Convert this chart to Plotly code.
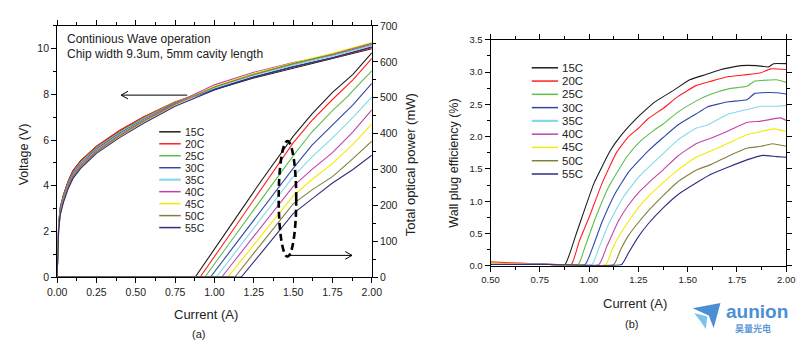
import plotly.graph_objects as go

W, H = 808, 348

temps = ["15C", "20C", "25C", "30C", "35C", "40C", "45C", "50C", "55C"]
colors = ["#1e1e1e", "#ff2020", "#5cbf4a", "#3048a8", "#86d8ea",
          "#c443aa", "#f6ea00", "#857f3c", "#2e2e82"]

# ---------------- (a) Voltage vs current ----------------
iv_current = [0, 0.005, 0.01, 0.02, 0.04, 0.07, 0.1, 0.15, 0.25, 0.4, 0.55,
              0.75, 1.0, 1.25, 1.5, 1.75, 2.0]
iv_v_15 = [0, 1.5, 2.35, 3.05, 3.6, 4.2, 4.65, 5.1, 5.72, 6.42, 7.0, 7.65, 8.22, 8.72, 9.15, 9.55, 10.0]
iv_v_20 = [0, 1.5, 2.33, 3.03, 3.58, 4.18, 4.63, 5.08, 5.73, 6.44, 7.02, 7.68, 8.24, 8.76, 9.2, 9.6, 10.05]
iv_v_25 = [0, 1.45, 2.28, 2.97, 3.52, 4.12, 4.57, 5.02, 5.67, 6.37, 6.97, 7.66, 8.32, 8.86, 9.31, 9.72, 10.18]
iv_v_30 = [0, 1.4, 2.22, 2.92, 3.46, 4.06, 4.51, 4.96, 5.61, 6.31, 6.9, 7.6, 8.24, 8.77, 9.22, 9.62, 10.08]
iv_v_35 = [0, 1.38, 2.18, 2.88, 3.42, 4.02, 4.47, 4.92, 5.57, 6.27, 6.87, 7.58, 8.28, 8.83, 9.28, 9.68, 10.14]
iv_v_40 = [0, 1.35, 2.15, 2.85, 3.39, 3.99, 4.44, 4.89, 5.54, 6.24, 6.85, 7.6, 8.42, 8.97, 9.4, 9.74, 10.2]
iv_v_45 = [0, 1.3, 2.08, 2.76, 3.3, 3.9, 4.35, 4.8, 5.45, 6.16, 6.8, 7.55, 8.36, 8.92, 9.38, 9.8, 10.28]
iv_v_50 = [0, 1.32, 2.12, 2.8, 3.34, 3.94, 4.39, 4.84, 5.49, 6.2, 6.82, 7.56, 8.33, 8.88, 9.35, 9.76, 10.24]
iv_v_55 = [0, 1.28, 2.05, 2.72, 3.26, 3.86, 4.31, 4.76, 5.42, 6.12, 6.74, 7.48, 8.2, 8.75, 9.2, 9.6, 10.08]
iv_voltages = [iv_v_15, iv_v_20, iv_v_25, iv_v_30, iv_v_35, iv_v_40, iv_v_45, iv_v_50, iv_v_55]

# ---------------- (a) Optical power vs current ----------------
li_i_15 = [0, 0.878, 1.1, 1.3, 1.5, 1.62, 1.75, 1.88, 1.93, 2.0]
li_p_15 = [0, 0, 142, 270, 392, 455, 515, 565, 590, 625]
li_i_20 = [0, 0.909, 1.1, 1.3, 1.5, 1.62, 1.75, 1.88, 2.0]
li_p_20 = [0, 0, 120, 247, 374, 437, 495, 550, 610]
li_i_25 = [0, 0.94, 1.1, 1.3, 1.5, 1.62, 1.75, 1.85, 1.88, 2.0]
li_p_25 = [0, 0, 97, 218, 338, 405, 464, 505, 520, 575]
li_i_30 = [0, 0.975, 1.1, 1.3, 1.5, 1.62, 1.75, 1.88, 2.0]
li_p_30 = [0, 0, 72, 188, 303, 368, 424, 480, 540]
li_i_35 = [0, 1.012, 1.1, 1.3, 1.5, 1.62, 1.75, 1.88, 2.0]
li_p_35 = [0, 0, 50, 165, 280, 335, 388, 445, 502]
li_i_40 = [0, 1.047, 1.1, 1.3, 1.5, 1.62, 1.75, 1.88, 2.0]
li_p_40 = [0, 0, 30, 141, 253, 300, 347, 405, 466]
li_i_45 = [0, 1.085, 1.1, 1.3, 1.5, 1.62, 1.75, 1.88, 2.0]
li_p_45 = [0, 0, 8, 117, 226, 272, 316, 370, 426]
li_i_50 = [0, 1.13, 1.3, 1.5, 1.62, 1.75, 1.88, 2.0]
li_p_50 = [0, 0, 94, 204, 243, 280, 330, 379]
li_i_55 = [0, 1.171, 1.3, 1.5, 1.62, 1.75, 1.88, 2.0]
li_p_55 = [0, 0, 69, 177, 218, 262, 300, 340]
li_currents = [li_i_15, li_i_20, li_i_25, li_i_30, li_i_35, li_i_40, li_i_45, li_i_50, li_i_55]
li_powers = [li_p_15, li_p_20, li_p_25, li_p_30, li_p_35, li_p_40, li_p_45, li_p_50, li_p_55]

# ---------------- (b) Wall plug efficiency ----------------
wpe_i_15 = [0.5, 0.6, 0.7, 0.8, 0.878, 0.93, 0.967, 1.025, 1.107, 1.165, 1.239, 1.33, 1.43, 1.51, 1.59, 1.67, 1.77, 1.85, 1.91, 1.935, 2.0]
wpe_w_15 = [0.03, 0.03, 0.025, 0.02, 0.02, 0.45, 0.78, 1.28, 1.78, 2.03, 2.28, 2.53, 2.72, 2.88, 2.96, 3.04, 3.10, 3.10, 3.08, 3.13, 3.13]
wpe_i_20 = [0.5, 0.6, 0.7, 0.8, 0.91, 0.95, 1.0, 1.066, 1.14, 1.2, 1.25, 1.3, 1.377, 1.45, 1.542, 1.62, 1.707, 1.8, 1.872, 1.92, 2.0]
wpe_w_20 = [0.06, 0.045, 0.035, 0.025, 0.02, 0.38, 0.75, 1.28, 1.76, 2.0, 2.13, 2.28, 2.44, 2.62, 2.79, 2.86, 2.93, 2.96, 2.99, 3.05, 3.04]
wpe_i_25 = [0.5, 0.6, 0.7, 0.8, 0.945, 0.98, 1.03, 1.099, 1.19, 1.25, 1.33, 1.377, 1.45, 1.542, 1.62, 1.707, 1.8, 1.84, 1.872, 1.95, 2.0]
wpe_w_25 = [0.04, 0.035, 0.03, 0.02, 0.02, 0.3, 0.72, 1.22, 1.68, 1.9, 2.1, 2.2, 2.38, 2.55, 2.66, 2.74, 2.78, 2.86, 2.87, 2.88, 2.84]
wpe_i_30 = [0.5, 0.6, 0.7, 0.8, 0.98, 1.02, 1.066, 1.132, 1.2, 1.25, 1.3, 1.377, 1.45, 1.542, 1.6, 1.707, 1.8, 1.84, 1.872, 1.95, 2.0]
wpe_w_30 = [0.03, 0.03, 0.025, 0.02, 0.02, 0.3, 0.68, 1.12, 1.45, 1.62, 1.78, 1.99, 2.18, 2.35, 2.46, 2.54, 2.57, 2.67, 2.68, 2.68, 2.66]
wpe_i_35 = [0.5, 0.6, 0.7, 0.8, 1.015, 1.05, 1.1, 1.17, 1.25, 1.3, 1.377, 1.45, 1.542, 1.6, 1.707, 1.8, 1.872, 1.95, 2.0]
wpe_w_35 = [0.04, 0.03, 0.025, 0.02, 0.02, 0.28, 0.65, 1.05, 1.37, 1.52, 1.74, 1.95, 2.13, 2.18, 2.35, 2.42, 2.47, 2.47, 2.48]
wpe_i_40 = [0.5, 0.6, 0.7, 0.8, 1.05, 1.09, 1.15, 1.2, 1.25, 1.3, 1.377, 1.45, 1.542, 1.62, 1.707, 1.8, 1.872, 1.97, 2.0]
wpe_w_40 = [0.03, 0.03, 0.025, 0.02, 0.02, 0.3, 0.7, 0.94, 1.13, 1.28, 1.49, 1.7, 1.89, 1.98, 2.09, 2.22, 2.24, 2.29, 2.25]
wpe_i_45 = [0.5, 0.6, 0.7, 0.8, 1.085, 1.12, 1.17, 1.25, 1.3, 1.377, 1.45, 1.542, 1.62, 1.707, 1.8, 1.872, 1.94, 2.0]
wpe_w_45 = [0.03, 0.025, 0.02, 0.02, 0.02, 0.28, 0.55, 0.9, 1.07, 1.29, 1.48, 1.68, 1.78, 1.9, 2.03, 2.08, 2.12, 2.08]
wpe_i_50 = [0.5, 0.6, 0.7, 0.8, 1.125, 1.16, 1.2, 1.25, 1.3, 1.377, 1.45, 1.542, 1.62, 1.707, 1.8, 1.872, 1.93, 2.0]
wpe_w_50 = [0.02, 0.02, 0.02, 0.02, 0.02, 0.25, 0.47, 0.67, 0.85, 1.09, 1.3, 1.48, 1.57, 1.7, 1.82, 1.85, 1.89, 1.85]
wpe_i_55 = [0.5, 0.6, 0.7, 0.8, 1.165, 1.2, 1.25, 1.3, 1.377, 1.45, 1.542, 1.62, 1.707, 1.8, 1.88, 1.95, 2.0]
wpe_w_55 = [0.02, 0.02, 0.02, 0.02, 0.02, 0.2, 0.45, 0.65, 0.9, 1.1, 1.28, 1.42, 1.53, 1.64, 1.71, 1.69, 1.68]
wpe_currents = [wpe_i_15, wpe_i_20, wpe_i_25, wpe_i_30, wpe_i_35, wpe_i_40, wpe_i_45, wpe_i_50, wpe_i_55]
wpe_values = [wpe_w_15, wpe_w_20, wpe_w_25, wpe_w_30, wpe_w_35, wpe_w_40, wpe_w_45, wpe_w_50, wpe_w_55]


def fx(px):
    return px / W


def fy(py):
    return 1 - py / H


fig = go.Figure()
LW = 1.1
for k in range(len(temps)):
    fig.add_trace(go.Scatter(x=li_currents[k], y=li_powers[k], mode="lines",
                             line=dict(color=colors[k], width=LW),
                             xaxis="x", yaxis="y2", showlegend=False))
for k in range(len(temps)):
    fig.add_trace(go.Scatter(x=iv_current, y=iv_voltages[k], mode="lines",
                             line=dict(color=colors[k], width=LW),
                             xaxis="x", yaxis="y", showlegend=False))
for k in range(len(temps)):
    fig.add_trace(go.Scatter(x=wpe_currents[k], y=wpe_values[k], mode="lines",
                             line=dict(color=colors[k], width=LW, shape="spline", smoothing=0.4),
                             xaxis="x2", yaxis="y3", showlegend=False))

FONT = "Liberation Sans, Arial, sans-serif"
TXT = "#222222"


def axis(**kw):
    base = dict(showline=True, linecolor="black", linewidth=1,
                ticks="outside", ticklen=5, tickwidth=1, tickcolor="black",
                showgrid=False, zeroline=False,
                tickfont=dict(family=FONT, size=10.5, color=TXT))
    base.update(kw)
    return base


fig.update_layout(
    width=W, height=H, margin=dict(l=0, r=0, t=0, b=0),
    paper_bgcolor="white", plot_bgcolor="white", showlegend=False,
    xaxis=axis(domain=[fx(48.3), fx(371)], anchor="y", range=[0, 2],
               dtick=0.25, tick0=0, tickformat=".2f", mirror="ticks",
               minor=dict(ticks="outside", ticklen=3, dtick=0.125, tickcolor="black")),
    yaxis=axis(domain=[fy(280.7), fy(20.7)], anchor="x", range=[0, 11],
               dtick=2, tick0=0,
               minor=dict(ticks="outside", ticklen=3, dtick=1, tickcolor="black")),
    yaxis2=axis(overlaying="y", side="right", anchor="x", range=[0, 700],
                dtick=100, tick0=0,
                minor=dict(ticks="outside", ticklen=3, dtick=50, tickcolor="black")),
    xaxis2=axis(domain=[fx(492.7), fx(796)], anchor="y3", range=[0.5, 2.0],
                dtick=0.25, tick0=0.5, tickformat=".2f", mirror="ticks",
                tickfont=dict(family=FONT, size=9.5, color=TXT),
                minor=dict(ticks="outside", ticklen=3, dtick=0.125, tickcolor="black")),
    yaxis3=axis(domain=[fy(269), fy(35)], anchor="x2", range=[0, 3.5],
                dtick=0.5, tick0=0, tickformat=".1f", mirror="ticks",
                tickfont=dict(family=FONT, size=9.5, color=TXT),
                minor=dict(ticks="outside", ticklen=3, dtick=0.25, tickcolor="black")),
)

annotations = []
shapes = []


def text(px, py, s, size=12, angle=0, xanchor="center", color=TXT, family=FONT,
         bold=False):
    annotations.append(dict(x=fx(px), y=fy(py), xref="paper", yref="paper",
                            text=("<b>%s</b>" % s) if bold else s, showarrow=False,
                            textangle=angle, xanchor=xanchor, yanchor="middle",
                            font=dict(family=family, size=size, color=color)))


def seg(x0, y0, x1, y1, color="black", width=1.0):
    shapes.append(dict(type="line", xref="paper", yref="paper",
                       x0=fx(x0), y0=fy(y0), x1=fx(x1), y1=fy(y1),
                       line=dict(color=color, width=width)))


# axis titles and captions
text(14, 154, "Voltage (V)", size=12.5, angle=-90)
text(411, 164, "Total optical power (mW)", size=13, angle=-90)
text(201, 319.5, "Current (A)", size=13)
text(193, 340, "(a)", size=11)
text(455, 162.5, "Wall plug efficiency (%)", size=12.5, angle=-90)
text(641, 308, "Current (A)", size=13)
text(637, 329, "(b)", size=11)

# in-plot notes
text(56, 34, "Continious Wave operation", size=12, xanchor="left")
text(56, 50, "Chip width 9.3um, 5mm cavity length", size=12, xanchor="left")

# legends (manual, compact)
for k, t in enumerate(temps):
    yy = 130.3 + k * 12.4
    seg(153, yy, 175, yy, colors[k], 2.2 if t == "35C" else 1.5)
    text(177.5, yy, t, size=10.5, xanchor="left")
    yy2 = 64 + k * 13.75
    seg(535, yy2, 562, yy2, colors[k], 2.2 if t == "35C" else 1.5)
    text(564, yy2, t, size=11.5, xanchor="left")

# arrows with open heads
seg(114, 92.3, 181.7, 92.3)
seg(114, 92.3, 121, 88.3)
seg(114, 92.3, 121, 96.3)
seg(285, 258.3, 350.7, 258.3)
seg(350.7, 258.3, 343.7, 254.3)
seg(350.7, 258.3, 343.7, 262.3)

# dashed ellipse
shapes.append(dict(type="circle", xref="paper", yref="paper",
                   x0=fx(275.5), x1=fx(293.5), y0=fy(259.5), y1=fy(140),
                   line=dict(color="black", width=2.6, dash="7px,4px")))

# logo
shapes.append(dict(type="path", xref="paper", yref="paper",
                   path="M %f,%f L %f,%f L %f,%f L %f,%f Z" % (
                       fx(700), fy(313), fx(728.5), fy(307.5), fx(721.5), fy(333.5), fx(716.5), fy(320.5)),
                   fillcolor="#4a8fd6", line=dict(width=0)))
shapes.append(dict(type="path", xref="paper", yref="paper",
                   path="M %f,%f L %f,%f L %f,%f L %f,%f Z" % (
                       fx(701.5), fy(318), fx(715), fy(321.5), fx(713.5), fy(334.5), fx(708), fy(326.5)),
                   fillcolor="#7cc3ec", line=dict(width=0)))
text(732.5, 316.5, "aunion", size=19, xanchor="left", color="#4a8fd6", bold=True)
text(741, 334.5, "昊量光电", size=9, xanchor="left", color="#5a9ad8",
     family="Noto Sans CJK SC", bold=True)

fig.update_layout(annotations=annotations, shapes=shapes)
fig.write_html("out.html")
